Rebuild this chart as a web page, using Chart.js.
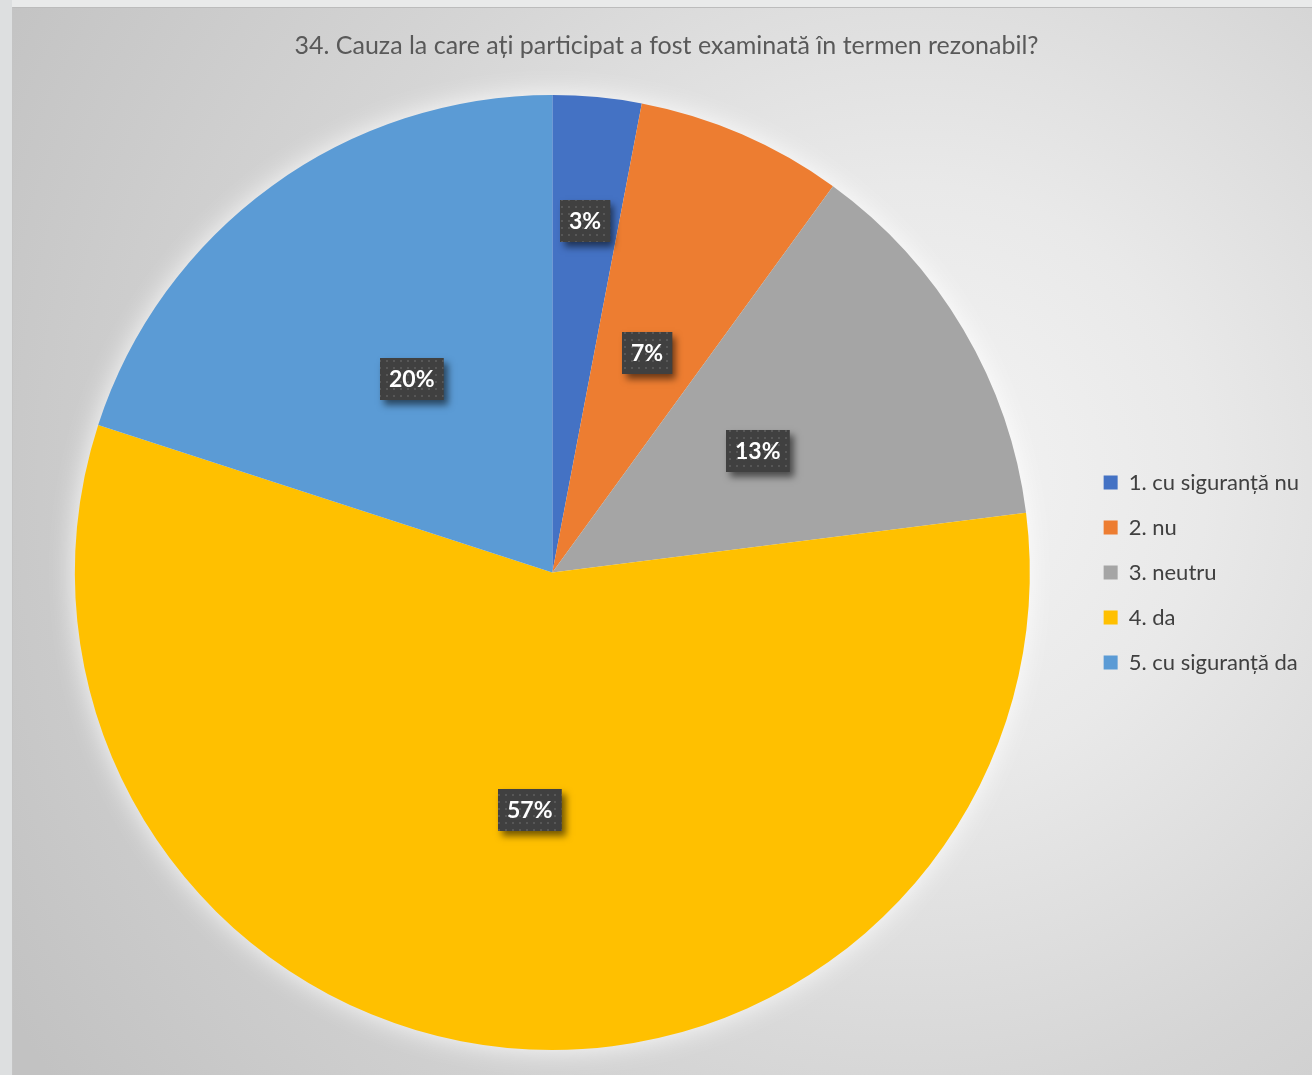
<!DOCTYPE html>
<html>
<head>
<meta charset="utf-8">
<script src="https://cdn.jsdelivr.net/npm/chart.js@4/dist/chart.umd.min.js"></script>
<style>
html,body{margin:0;padding:0;width:1312px;height:1075px;overflow:hidden;background:#e9eaea}
#strip{position:absolute;left:0;top:0;width:12px;height:1075px;background:#dddfe0}
#frame{position:absolute;left:12px;top:7px;width:1300px;height:1068px;overflow:hidden;
  border-top:1px solid #bcbcbc;border-left:1px solid #c4c4c4;box-sizing:border-box;
  background:radial-gradient(circle 1050px at 900px 470px,#f4f4f4 0%,#e9e9e9 28%,#d5d5d5 60%,#c2c2c2 100%)}
canvas{position:absolute;left:-1px;top:-1px}
</style>
</head>
<body>
<div id="strip"></div>
<div id="frame"><canvas id="c" width="1297" height="1068"></canvas></div>
<script>
const TITLE = '34. Cauza la care ați participat a fost examinată în termen rezonabil?';
const categories = ['1. cu siguranță nu', '2. nu', '3. neutru', '4. da', '5. cu siguranță da'];
const values = [3, 7, 13, 57, 20];
const colors = ['#4472C4', '#ED7D31', '#A5A5A5', '#FFC000', '#5B9BD5'];

function makePattern(ctx) {
  const pc = document.createElement('canvas');
  pc.width = 7; pc.height = 7;
  const p = pc.getContext('2d');
  p.fillStyle = '#404040';
  p.fillRect(0, 0, 7, 7);
  p.fillStyle = '#575757';
  p.fillRect(3, 3, 2, 2);
  return ctx.createPattern(pc, 'repeat');
}

const glowPlugin = {
  id: 'pieGlow',
  beforeDatasetsDraw(chart) {
    const arc = chart.getDatasetMeta(0).data[0];
    if (!arc) return;
    const p = arc.getProps(['x', 'y', 'outerRadius'], true);
    const ctx = chart.ctx;
    ctx.save();
    ctx.shadowColor = 'rgba(255,255,255,0.95)';
    ctx.shadowBlur = 28;
    ctx.fillStyle = '#f4f4f4';
    ctx.beginPath();
    ctx.arc(p.x, p.y, p.outerRadius - 1, 0, Math.PI * 2);
    ctx.fill();
    ctx.restore();
  }
};

const labelPlugin = {
  id: 'boxLabels',
  afterDatasetsDraw(chart) {
    const ctx = chart.ctx;
    const meta = chart.getDatasetMeta(0);
    const total = values.reduce((a, b) => a + b, 0);
    const pattern = makePattern(ctx);
    meta.data.forEach((arc, i) => {
      const p = arc.getProps(['x', 'y', 'startAngle', 'endAngle', 'outerRadius'], true);
      const span = p.endAngle - p.startAngle;
      const mid = (p.startAngle + p.endAngle) / 2;
      const frac = span < 0.3 ? 0.74 : 0.5;
      const cx = p.x + Math.cos(mid) * p.outerRadius * frac;
      const cy = p.y + Math.sin(mid) * p.outerRadius * frac;
      const txt = Math.round(values[i] / total * 100) + '%';
      ctx.save();
      ctx.font = 'bold 23px Lato';
      const tw = ctx.measureText(txt).width;
      const w = tw + 18, h = 42;
      const x0 = Math.round(cx - w / 2), y0 = Math.round(cy - h / 2);
      ctx.shadowColor = 'rgba(0,0,0,0.55)';
      ctx.shadowBlur = 7;
      ctx.shadowOffsetX = 4;
      ctx.shadowOffsetY = 5;
      ctx.fillStyle = '#404040';
      ctx.fillRect(x0, y0, w, h);
      ctx.shadowColor = 'transparent';
      ctx.fillStyle = pattern;
      ctx.fillRect(x0, y0, w, h);
      ctx.fillStyle = '#ffffff';
      ctx.textAlign = 'center';
      ctx.textBaseline = 'middle';
      ctx.fillText(txt, x0 + w / 2, y0 + h / 2 + 1);
      ctx.restore();
    });
  }
};

new Chart(document.getElementById('c'), {
  type: 'pie',
  data: {
    labels: categories,
    datasets: [{
      data: values,
      backgroundColor: colors,
      borderWidth: 0
    }]
  },
  options: {
    responsive: false,
    animation: false,
    layout: { padding: { left: 12, right: 0, top: 0, bottom: 25 } },
    plugins: {
      title: {
        display: true,
        text: TITLE,
        color: '#595959',
        font: { family: 'Lato', size: 25, weight: 'normal', lineHeight: 1 },
        padding: { top: 26.5, bottom: 36.5 }
      },
      legend: {
        position: 'right',
        fullSize: false,
        labels: {
          boxWidth: 14,
          boxHeight: 14,
          padding: 23,
          color: '#404040',
          font: { family: 'Lato', size: 22 }
        }
      },
      tooltip: { enabled: false }
    }
  },
  plugins: [glowPlugin, labelPlugin]
});
</script>
</body>
</html>
